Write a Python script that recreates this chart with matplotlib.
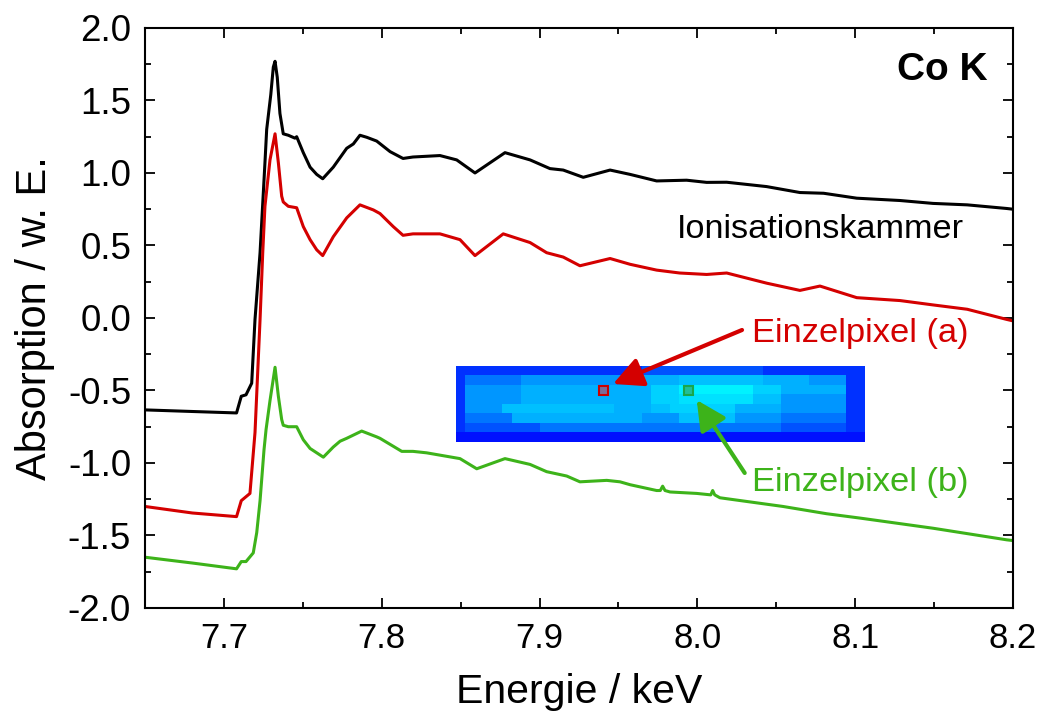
import numpy as np
import matplotlib.pyplot as plt
from matplotlib.colors import LinearSegmentedColormap
from matplotlib.patches import Rectangle
from matplotlib.ticker import MultipleLocator

plt.rcParams['font.family'] = ['Liberation Sans', 'DejaVu Sans']
plt.rcParams['axes.unicode_minus'] = False

# Ionisationskammer (black)
e_ion = [7.650, 7.680, 7.708, 7.711, 7.714, 7.7176, 7.7197, 7.7229, 7.726, 7.7271,
         7.7297, 7.7313, 7.7324, 7.7338, 7.7355, 7.7376, 7.7408, 7.745, 7.7461, 7.7503,
         7.7546, 7.7588, 7.7626, 7.7693, 7.7778, 7.782, 7.7862, 7.7905, 7.7968, 7.8053,
         7.8135, 7.8198, 7.8369, 7.8475, 7.8591, 7.8781, 7.894, 7.9066, 7.915, 7.9277,
         7.9447, 7.9574, 7.9742, 7.9932, 8.0059, 8.0186, 8.0439, 8.065, 8.080, 8.101,
         8.1284, 8.1493, 8.171, 8.196, 8.200]
a_ion = [-0.634, -0.645, -0.655, -0.54, -0.53, -0.45, -0.01, 0.45, 1.07, 1.30,
         1.54, 1.73, 1.77, 1.66, 1.41, 1.27, 1.26, 1.24, 1.25, 1.14,
         1.04, 0.99, 0.96, 1.04, 1.17, 1.20, 1.26, 1.246, 1.22, 1.147,
         1.10, 1.11, 1.12, 1.09, 1.00, 1.14, 1.09, 1.03, 1.02, 0.97,
         1.02, 0.99, 0.945, 0.95, 0.935, 0.936, 0.906, 0.865, 0.86, 0.826,
         0.81, 0.79, 0.78, 0.755, 0.75]

# Einzelpixel (a) (red)
e_pxa = [7.650, 7.680, 7.708, 7.711, 7.7165, 7.7197, 7.7229, 7.7246, 7.726, 7.7292,
         7.7324, 7.7345, 7.7366, 7.7376, 7.7408, 7.7461, 7.7503, 7.7546, 7.7588, 7.7626,
         7.7693, 7.7778, 7.7862, 7.7947, 7.7989, 7.8073, 7.8135, 7.8198, 7.8369, 7.8496,
         7.8591, 7.877, 7.894, 7.9045, 7.915, 7.9256, 7.9447, 7.9574, 7.9742, 7.9888,
         8.0059, 8.0186, 8.0439, 8.065, 8.0777, 8.101, 8.1284, 8.1493, 8.171, 8.196, 8.200]
a_pxa = [-1.30, -1.345, -1.37, -1.26, -1.21, -0.79, -0.01, 0.45, 0.77, 1.09,
         1.27, 1.07, 0.84, 0.80, 0.77, 0.76, 0.63, 0.54, 0.47, 0.43,
         0.56, 0.69, 0.78, 0.745, 0.72, 0.63, 0.57, 0.58, 0.58, 0.54,
         0.43, 0.58, 0.52, 0.45, 0.42, 0.36, 0.41, 0.37, 0.33, 0.31,
         0.30, 0.31, 0.24, 0.19, 0.22, 0.14, 0.12, 0.09, 0.06, -0.01, -0.02]

# Einzelpixel (b) (green)
e_pxb = [7.650, 7.680, 7.708, 7.711, 7.714, 7.7186, 7.7208, 7.7229, 7.7254, 7.7267,
         7.7292, 7.7324, 7.7345, 7.7366, 7.7376, 7.7408, 7.7461, 7.7503, 7.7546, 7.763,
         7.7693, 7.7736, 7.7778, 7.7873, 7.7968, 7.7989, 7.8127, 7.8198, 7.8284, 7.8496,
         7.8602, 7.8781, 7.894, 7.9045, 7.9172, 7.9256, 7.9426, 7.951, 7.9574, 7.9742,
         7.9765, 7.978, 7.9795, 7.9827, 7.9996, 8.0085, 8.0097, 8.0110, 8.0143, 8.0543,
         8.0819, 8.103, 8.1493, 8.196, 8.200]
a_pxb = [-1.65, -1.69, -1.73, -1.68, -1.68, -1.62, -1.48, -1.26, -0.91, -0.77,
         -0.57, -0.34, -0.54, -0.70, -0.74, -0.75, -0.75, -0.84, -0.90, -0.96,
         -0.89, -0.85, -0.83, -0.78, -0.82, -0.83, -0.92, -0.92, -0.93, -0.97,
         -1.04, -0.97, -1.01, -1.06, -1.09, -1.13, -1.12, -1.13, -1.15, -1.19,
         -1.19, -1.16, -1.19, -1.20, -1.21, -1.22, -1.19, -1.22, -1.24, -1.30,
         -1.35, -1.38, -1.45, -1.53, -1.535]

# detector image, intensity 0 (blue) .. 9 (cyan), one string per row
pixel_rows = [
    '1' * 20 + '2' * 13 + '1' * 11,
    '1' + '3' * 6 + '4' * 13 + '5' * 4 + '6' * 9 + '5' * 5 + '4' * 4 + '1' * 2,
    '1' + '4' * 6 + '5' * 14 + '7' * 3 + '9' * 8 + '7' * 3 + '5' * 7 + '1' * 2,
    '1' + '4' * 6 + '5' * 14 + '7' * 3 + '8' * 8 + '6' * 3 + '4' * 7 + '1' * 2,
    '1' + '4' * 4 + '6' * 12 + '5' * 4 + '6' * 2 + '7' * 7 + '5' * 5 + '4' * 7 + '1' * 2,
    '1' + '3' * 5 + '5' * 14 + '4' * 4 + '6' * 6 + '4' * 5 + '3' * 7 + '1' * 2,
    '1' + '2' * 8 + '3' * 26 + '2' * 7 + '1' * 2,
    '0' * 44,
]
pixel_a = (7.9405, -0.503)
pixel_b = (7.9947, -0.503)

red = '#d40000'
green = '#3db31a'

fig = plt.figure(figsize=(10.38, 7.13), dpi=100)
ax = fig.add_axes([0.1397, 0.1473, 0.8362, 0.8135])

ax.plot(e_ion, a_ion, color='black', lw=2.2)
ax.plot(e_pxa, a_pxa, color=red, lw=2.2)
ax.plot(e_pxb, a_pxb, color=green, lw=2.2)

img = np.array([[int(c) for c in row] for row in pixel_rows], dtype=float)
cmap = LinearSegmentedColormap.from_list('det', ['#0010ff', '#00a8ff', '#00f2ff'])
ax.imshow(img, cmap=cmap, vmin=0, vmax=9, extent=[7.847, 8.1056, -0.855, -0.331],
          aspect='auto', interpolation='nearest', origin='upper', zorder=2)

w, h = 0.0057, 0.062
ax.add_patch(Rectangle((pixel_a[0] - w / 2, pixel_a[1] - h / 2), w, h,
                       facecolor='#7a6c98', edgecolor='#cc0000', lw=1.5, zorder=3))
ax.add_patch(Rectangle((pixel_b[0] - w / 2, pixel_b[1] - h / 2), w, h,
                       facecolor='#1fbf98', edgecolor='#1aa64a', lw=1.5, zorder=3))

ax.annotate('', xy=(7.9466, -0.455), xytext=(8.0283, -0.083),
            arrowprops=dict(arrowstyle='-|>', color=red, lw=3, mutation_scale=45,
                            shrinkA=0, shrinkB=0), zorder=4)
ax.annotate('', xy=(7.9996, -0.566), xytext=(8.030, -1.069),
            arrowprops=dict(arrowstyle='-|>', color=green, lw=3, mutation_scale=45,
                            shrinkA=0, shrinkB=0), zorder=4)

ax.text(8.1842, 1.641, 'Co K', ha='right', va='baseline', fontsize=28, fontweight='bold')
ax.text(7.9873, 0.550, 'Ionisationskammer', ha='left', va='baseline', fontsize=24.7)
ax.text(8.0346, -0.163, 'Einzelpixel (a)', ha='left', va='baseline', fontsize=24.8, color=red)
ax.text(8.0346, -1.191, 'Einzelpixel (b)', ha='left', va='baseline', fontsize=24.8, color=green)

ax.set_xlim(7.65, 8.2)
ax.set_ylim(-2.0, 2.0)
ax.xaxis.set_major_locator(MultipleLocator(0.1))
ax.xaxis.set_minor_locator(MultipleLocator(0.05))
ax.yaxis.set_major_locator(MultipleLocator(0.5))
ax.yaxis.set_minor_locator(MultipleLocator(0.25))
ax.xaxis.set_major_formatter(plt.FormatStrFormatter('%.1f'))
ax.yaxis.set_major_formatter(plt.FormatStrFormatter('%.1f'))

ax.tick_params(which='both', direction='in', top=True, right=True, width=1.3)
ax.tick_params(which='major', length=7, pad=10)
ax.tick_params(which='minor', length=4)
ax.tick_params(axis='x', labelsize=25)
ax.tick_params(axis='y', labelsize=26.5)
for s in ax.spines.values():
    s.set_linewidth(1.5)

ax.set_xlabel('Energie / keV', fontsize=29.5)
ax.set_ylabel('Absorption / w. E.', fontsize=30)
ax.xaxis.set_label_coords(0.5, -0.112)
ax.yaxis.set_label_coords(-0.104, 0.5)

fig.savefig('out.png', dpi=100)
